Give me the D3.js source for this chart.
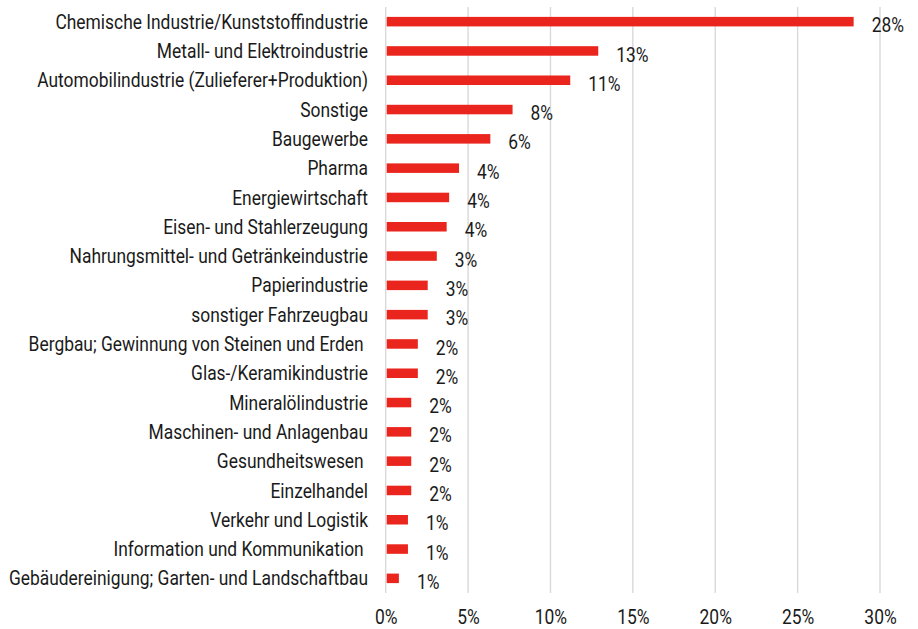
<!DOCTYPE html>
<html>
<head>
<meta charset="utf-8">
<script src="https://cdn.jsdelivr.net/npm/d3@7"></script>
<style>
  html, body { margin: 0; padding: 0; background: #ffffff; }
  svg { display: block; }
  text { font-family: Roboto, "Noto Sans", sans-serif; fill: #1a1a1a; white-space: pre; }
</style>
</head>
<body>
<svg id="chart" width="918" height="629"></svg>
<script>
const categories = [
  "Chemische Industrie/Kunststoffindustrie",
  "Metall- und Elektroindustrie",
  "Automobilindustrie (Zulieferer+Produktion)",
  "Sonstige",
  "Baugewerbe",
  "Pharma",
  "Energiewirtschaft",
  "Eisen- und Stahlerzeugung",
  "Nahrungsmittel- und Getränkeindustrie",
  "Papierindustrie",
  "sonstiger Fahrzeugbau",
  "Bergbau; Gewinnung von Steinen und Erden ",
  "Glas-/Keramikindustrie",
  "Mineralölindustrie",
  "Maschinen- und Anlagenbau",
  "Gesundheitswesen ",
  "Einzelhandel",
  "Verkehr und Logistik",
  "Information und Kommunikation ",
  "Gebäudereinigung; Garten- und Landschaftbau"
];
const shares = [28.4, 12.9, 11.2, 7.7, 6.35, 4.45, 3.85, 3.7, 3.1, 2.55, 2.55, 1.95, 1.95, 1.55, 1.55, 1.55, 1.55, 1.35, 1.35, 0.8];
const valueLabels = ["28%", "13%", "11%", "8%", "6%", "4%", "4%", "4%", "3%", "3%", "3%", "2%", "2%", "2%", "2%", "2%", "2%", "1%", "1%", "1%"];
const xTicks = [0, 5, 10, 15, 20, 25, 30];
const xTickLabels = ["0%", "5%", "10%", "15%", "20%", "25%", "30%"];

(function () {
const data = categories.map((c, i) => ({ cat: c, v: shares[i], label: valueLabels[i] }));

const svg = d3.select("#chart");
const mLeft = 385.7, mRight = 880, mTop = 7, mBottom = 593;
const fontSize = 20, sx = 0.87;

const x = d3.scaleLinear().domain([0, 30]).range([mLeft, mRight]);
const y = d3.scaleBand().domain(categories).range([mTop, mBottom]).paddingInner(0.675).paddingOuter(0.3375);

// gridlines
svg.append("g").selectAll("line").data(xTicks).join("line")
  .attr("x1", d => x(d)).attr("x2", d => x(d))
  .attr("y1", mTop).attr("y2", mBottom)
  .attr("stroke", "#d9d9d9").attr("stroke-width", 1.4);

// bars
svg.append("g").selectAll("rect").data(data).join("rect")
  .attr("x", x(0) + 1)
  .attr("y", d => y(d.cat))
  .attr("width", d => x(d.v) - x(0) - 1)
  .attr("height", y.bandwidth())
  .attr("fill", "#ea251d");

// category labels
svg.append("g").selectAll("text").data(data).join("text")
  .attr("transform", d => `translate(368,${y(d.cat) + y.bandwidth() / 2 + 0.355 * fontSize}) scale(${sx},1)`)
  .attr("text-anchor", "end")
  .attr("font-size", fontSize)
  .text(d => d.cat);

// value labels
svg.append("g").selectAll("text").data(data).join("text")
  .attr("transform", d => `translate(${x(d.v) + 18},${y(d.cat) + y.bandwidth() / 2 + 3.5 + 0.355 * fontSize}) scale(${sx},1)`)
  .attr("text-anchor", "start")
  .attr("font-size", fontSize)
  .text(d => d.label);

// x axis tick labels
const xAxis = d3.axisBottom(x).tickValues(xTicks).tickSize(0).tickFormat((d, i) => xTickLabels[i]);
const gx = svg.append("g").attr("transform", `translate(0,${mBottom})`).call(xAxis);
gx.select(".domain").remove();
gx.selectAll(".tick text")
  .attr("y", 0).attr("dy", null)
  .attr("font-size", fontSize)
  .attr("font-family", "Roboto, 'Noto Sans', sans-serif")
  .attr("fill", "#1a1a1a")
  .attr("transform", `translate(0,${623.5 - mBottom}) scale(${sx},1)`);
})();
</script>
</body>
</html>
